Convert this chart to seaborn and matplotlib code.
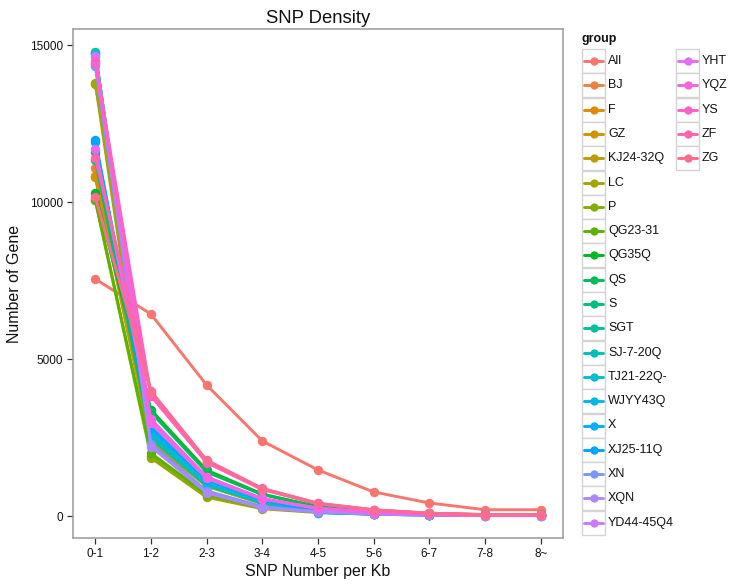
import numpy as np
import pandas as pd
import matplotlib
matplotlib.use("Agg")
import matplotlib.pyplot as plt
from matplotlib.patches import Rectangle
from matplotlib.lines import Line2D
import seaborn as sns

bins = ['0-1', '1-2', '2-3', '3-4', '4-5', '5-6', '6-7', '7-8', '8~']

groups = ['All', 'BJ', 'F', 'GZ', 'KJ24-32Q', 'LC', 'P', 'QG23-31', 'QG35Q', 'QS', 'S',
          'SGT', 'SJ-7-20Q', 'TJ21-22Q-', 'WJYY43Q', 'X', 'XJ25-11Q', 'XN', 'XQN',
          'YD44-45Q4', 'YHT', 'YQZ', 'YS', 'ZF', 'ZG']

v_All = [7550, 6430, 4170, 2390, 1465, 765, 415, 200, 200]
v_BJ = [11090, 2600, 1050, 450, 200, 90, 45, 20, 25]
v_F = [10820, 2400, 960, 400, 180, 80, 40, 18, 22]
v_GZ = [10800, 2350, 950, 390, 175, 80, 38, 17, 20]
v_KJ24_32Q = [13750, 3850, 1720, 860, 380, 180, 90, 45, 50]
v_LC = [13800, 1850, 600, 230, 110, 60, 80, 20, 30]
v_P = [10050, 1900, 640, 260, 130, 70, 70, 30, 30]
v_QG23_31 = [10080, 2000, 700, 290, 140, 70, 60, 25, 25]
v_QG35Q = [10300, 3380, 1460, 700, 300, 140, 70, 30, 30]
v_QS = [11600, 3300, 1400, 680, 290, 130, 60, 28, 30]
v_S = [11350, 2520, 1000, 430, 190, 85, 40, 18, 20]
v_SGT = [14780, 2480, 980, 420, 185, 80, 38, 17, 20]
v_SJ_7_20Q = [14750, 2500, 990, 425, 190, 82, 40, 18, 20]
v_TJ21_22Q = [14700, 2650, 1080, 470, 210, 90, 42, 20, 22]
v_WJYY43Q = [14400, 2700, 1100, 480, 205, 88, 40, 19, 20]
v_X = [11900, 2870, 1180, 520, 120, 60, 30, 15, 15]
v_XJ25_11Q = [11980, 2800, 1150, 500, 110, 55, 28, 14, 15]
v_XN = [14330, 2300, 800, 300, 140, 65, 32, 15, 15]
v_XQN = [14620, 2210, 740, 260, 130, 60, 30, 14, 14]
v_YD44_45Q4 = [14650, 2950, 1200, 540, 240, 110, 50, 22, 25]
v_YHT = [11700, 3090, 1250, 560, 250, 115, 52, 24, 25]
v_YQZ = [14440, 3000, 1230, 550, 245, 112, 50, 23, 24]
v_YS = [14500, 3820, 1700, 840, 390, 190, 85, 40, 40]
v_ZF = [11410, 3980, 1780, 880, 410, 200, 90, 45, 45]
v_ZG = [10170, 3950, 1760, 870, 400, 195, 88, 42, 44]

values = [v_All, v_BJ, v_F, v_GZ, v_KJ24_32Q, v_LC, v_P, v_QG23_31, v_QG35Q, v_QS, v_S,
          v_SGT, v_SJ_7_20Q, v_TJ21_22Q, v_WJYY43Q, v_X, v_XJ25_11Q, v_XN, v_XQN,
          v_YD44_45Q4, v_YHT, v_YQZ, v_YS, v_ZF, v_ZG]


def hcl_to_hex(h, c=100.0, l=65.0):
    hr = np.deg2rad(h)
    u = c * np.cos(hr)
    v = c * np.sin(hr)
    Xn, Yn, Zn = 95.047, 100.0, 108.883
    un = 4 * Xn / (Xn + 15 * Yn + 3 * Zn)
    vn = 9 * Yn / (Xn + 15 * Yn + 3 * Zn)
    Y = Yn * ((l + 16) / 116) ** 3 if l > 8 else Yn * l / 903.3
    up = u / (13 * l) + un
    vp = v / (13 * l) + vn
    X = 9.0 * Y * up / (4 * vp)
    Z = -X / 3 - 5 * Y + 3 * Y / vp
    xyz = np.array([X, Y, Z]) / 100.0
    M = np.array([[3.240479, -1.537150, -0.498535],
                  [-0.969256, 1.875992, 0.041556],
                  [0.055648, -0.204043, 1.057311]])
    rgb = M @ xyz
    out = []
    for ch in rgb:
        ch = 12.92 * ch if ch <= 0.0031308 else 1.055 * ch ** (1 / 2.4) - 0.055
        out.append(min(max(ch, 0), 1))
    return matplotlib.colors.to_hex(out)


n = len(groups)
hues = np.linspace(15, 375, n + 1)[:n]
palette = {g: hcl_to_hex(h) for g, h in zip(groups, hues)}

rows = []
for g, vals in zip(groups, values):
    for b, val in zip(bins, vals):
        rows.append({'group': g, 'bin': b, 'count': val})
df = pd.DataFrame(rows)

sns.set_style("white")
plt.rcParams['font.family'] = ['Liberation Sans', 'DejaVu Sans']

fig = plt.figure(figsize=(7.3, 5.84), dpi=100)
ax = fig.add_axes([73 / 730, 1 - 538 / 584, (563 - 73) / 730, (538 - 29) / 584])

sns.lineplot(data=df, x='bin', y='count', hue='group', hue_order=groups,
             palette=palette, marker='o', markersize=6.8, markeredgewidth=0,
             linewidth=2.1, sort=False, legend=False, ax=ax, estimator=None)

ax.set_xlim(-0.4, 8.4)
ax.set_ylim(-700, 15510)
ax.set_yticks([0, 5000, 10000, 15000])
ax.set_yticklabels(['0', '5000', '10000', '15000'])
ax.set_xlabel('SNP Number per Kb', fontsize=11.5, color='#111111', labelpad=3)
ax.set_ylabel('Number of Gene', fontsize=11.5, color='#111111', labelpad=6)
ax.set_title('SNP Density', fontsize=13.3, color='#111111', pad=4)
ax.tick_params(axis='both', which='both', direction='out', length=4, width=0.9,
               color='#333333', labelsize=8.5, labelcolor='#111111', pad=3,
               bottom=True, left=True)
for s in ax.spines.values():
    s.set_color('#9a9a9a')
    s.set_linewidth(1.1)
ax.grid(False)

# legend (ggplot style)
fig.text(582 / 730, 1 - 39 / 584, 'group', fontsize=9, fontweight='bold',
         va='center', ha='left', color='#111111')
row_h = 24.3
for i, g in enumerate(groups):
    col = 0 if i < 20 else 1
    r = i if i < 20 else i - 20
    x0 = 582 if col == 0 else 676
    yc = 61 + r * row_h
    rect = Rectangle((x0 / 730, 1 - (yc + 12) / 584), 23 / 730, 24 / 584,
                     transform=fig.transFigure, facecolor='white',
                     edgecolor='#d4d4d4', linewidth=1.0)
    fig.patches.append(rect)
    ln = Line2D([(x0 + 2) / 730, (x0 + 21) / 730], [1 - yc / 584, 1 - yc / 584],
                transform=fig.transFigure, color=palette[g], linewidth=2.1,
                marker=None)
    fig.lines.append(ln)
    pt = Line2D([(x0 + 11.5) / 730], [1 - yc / 584], transform=fig.transFigure,
                color=palette[g], marker='o', markersize=6, markeredgewidth=0,
                linestyle='none')
    fig.lines.append(pt)
    fig.text((x0 + 26) / 730, 1 - yc / 584, g, fontsize=9, va='center',
             ha='left', color='#111111')

fig.savefig('out.png', dpi=100)
